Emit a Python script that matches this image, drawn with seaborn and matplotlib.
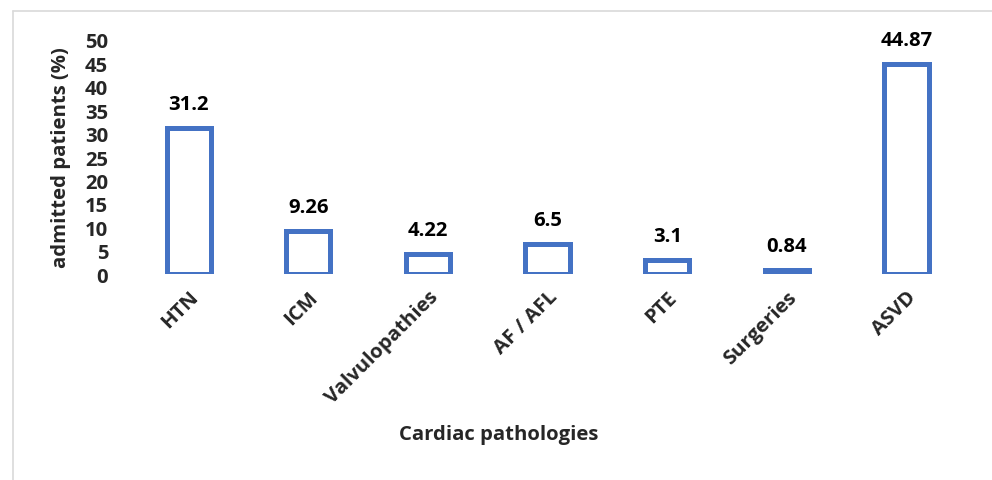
import matplotlib
matplotlib.use("Agg")
import matplotlib.pyplot as plt
import seaborn as sns
import pandas as pd
from matplotlib.lines import Line2D

categories = ["HTN", "ICM", "Valvulopathies", "AF / AFL", "PTE", "Surgeries", "ASVD"]
values = [31.2, 9.26, 4.22, 6.5, 3.1, 0.84, 44.87]
value_labels = ["31.2", "9.26", "4.22", "6.5", "3.1", "0.84", "44.87"]
y_ticks = [0, 5, 10, 15, 20, 25, 30, 35, 40, 45, 50]

sns.set_theme(style="white")
plt.rcParams['font.family'] = ['Open Sans', 'DejaVu Sans']
plt.rcParams['font.weight'] = 'bold'

FS = 14.6

df = pd.DataFrame({"cat": categories, "val": values})

fig = plt.figure(figsize=(9.92, 4.81), dpi=100)
fig.patch.set_facecolor("white")
ax = fig.add_axes([0.130, 0.428, 0.844, 0.487])

sns.barplot(data=df, x="cat", y="val", order=categories, fill=False,
            color="#4472C4", linewidth=3.6, width=0.37, ax=ax, errorbar=None)
for p in ax.patches:
    p.set_edgecolor("#4472C4")
    p.set_joinstyle("miter")

for i, (v, lab) in enumerate(zip(values, value_labels)):
    ax.annotate(lab, (i, v), xytext=(0, 10), textcoords="offset points",
                ha="center", va="bottom", fontsize=FS, fontweight="bold", color="black")

ax.set_xlim(-0.5, 6.5)
ax.set_ylim(0, 50)
ax.set_yticks(y_ticks)
ax.set_yticklabels([str(t) for t in y_ticks], fontsize=FS, fontweight="bold")
ax.set_xticks(range(len(categories)))
ax.set_xticklabels(categories, rotation=45, ha="right", rotation_mode="anchor",
                   fontsize=FS, fontweight="bold")
ax.tick_params(axis="both", length=0)
ax.tick_params(axis="y", pad=15)
ax.tick_params(axis="x", pad=9)
for s in ax.spines.values():
    s.set_visible(False)

ax.set_ylabel("admitted patients (%)", fontsize=FS, fontweight="bold")
ax.yaxis.set_label_coords(-0.069, 0.5)
ax.set_xlabel("")
fig.text(0.503, 0.095, "Cardiac pathologies", ha="center", va="center",
         fontsize=FS, fontweight="bold")

# outer light border
fig.add_artist(Line2D([12.5/992, 12.5/992], [0, 1 - 11.5/481], color="#d9d9d9", lw=1.2, transform=fig.transFigure))
fig.add_artist(Line2D([12.5/992, 1], [1 - 11.5/481, 1 - 11.5/481], color="#d9d9d9", lw=1.2, transform=fig.transFigure))

fig.savefig("out.png", dpi=100, facecolor="white")
